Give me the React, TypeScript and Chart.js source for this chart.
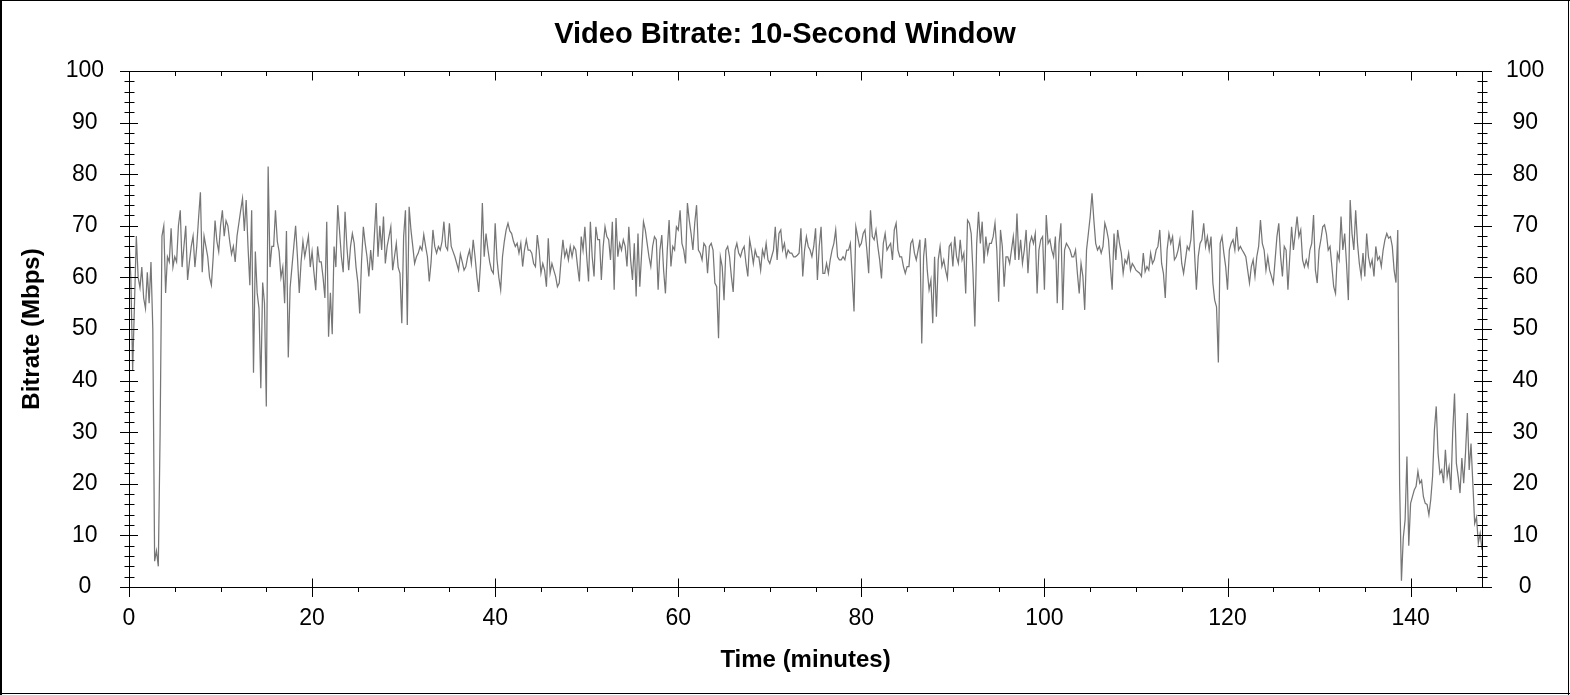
import React, { useEffect, useRef } from "react";
import { Chart, registerables } from "chart.js";

Chart.register(...registerables);

// ---- data ----
const SAMPLE_STEP_MIN = 0.2;
const segmentStartMin = [0, 21.0, 42.4, 64.0, 85.2, 106.4, 128.0];

const seg1 = [
  67.5, 60, 42, 55, 68, 60, 58, 62, 56, 54,
  61, 55, 63, 50, 5, 7, 4, 30, 68, 70,
  57, 64, 63, 69.5, 62, 64, 63, 70, 73, 62,
  66, 70, 59.5, 63, 66, 68, 62, 66, 71.5, 76.5,
  61, 68, 66, 64, 60, 58.5, 64, 71, 67, 65,
  70, 73, 68, 71, 70, 67, 64.5, 66, 63, 68,
  70.5, 73, 75.3, 69, 75, 66, 58.5, 73, 41.5, 65,
  57, 54, 38.5, 59, 55, 35, 81.5, 62, 66, 66,
  73, 67, 65, 60, 62, 55, 69, 44.5, 58, 62,
  66, 70, 64, 57, 63, 67, 64, 66, 68, 62,
  65, 61, 57.5, 66, 63,
];
const seg2 = [
  63, 60, 56, 70.8, 48.5, 57, 49, 66, 62, 74,
  69, 64, 61, 72.7, 66, 61.4, 66, 68.5, 66.6, 62,
  59, 53, 63, 69.8, 66.6, 64, 60.2, 65.3, 61.4, 68,
  74.4, 64, 70, 65.3, 71.8, 62.7, 66, 67.9, 69.8, 61.4,
  64, 66.6, 62, 60.8, 51.1, 67.9, 73, 50.8, 73.7, 69.2,
  66, 62.7, 64, 64.7, 66, 65.3, 68.3, 66, 64, 59.2,
  63, 69.2, 66, 64.7, 66, 65.3, 67, 70.8, 66, 65.3,
  70.5, 66, 65, 64, 62.7, 61.4, 64.5, 63, 61.4, 62.1,
  64, 65.3, 62.7, 67.3, 64, 60.2, 57.2, 62.7, 74.4, 64,
  68.5, 65.5, 63, 61.4, 60.8, 70.5, 63.5, 60, 57.6, 64,
  67, 69.2, 70.5, 69, 68.5, 67, 66,
];
const seg3 = [
  66.6, 64.7, 66.6, 62.1, 65.3, 67.3, 65.3, 65.3, 64.7, 62.7,
  62.1, 68.2, 65.3, 60.8, 62.7, 61.4, 58.2, 67.6, 60.8, 62.7,
  61.4, 60.2, 58.2, 58.9, 63.4, 67.3, 64, 65.3, 63.4, 66,
  64, 66, 65.3, 62.1, 59.2, 67.9, 65.3, 69.8, 64, 59.2,
  70.8, 64, 60.2, 69.8, 67.3, 67.3, 59.5, 66, 69.8, 67.9,
  67.3, 63.4, 70.8, 57.6, 71.5, 64, 66.6, 65.3, 67.3, 66,
  62.1, 69.8, 63.4, 59.5, 66.6, 56.3, 68.5, 58.2, 64.7, 70.8,
  69.2, 66.6, 64, 62.1, 66, 67.9, 67.3, 57.6, 65.3, 68.2,
  61.4, 56.9, 65.3, 71.1, 62.1, 66, 65.3, 69.8, 69.2, 73,
  66.6, 65.3, 62.7, 74.4, 71.1, 68.5, 65.3, 70.5, 74, 65.3,
  64.7, 63.4, 66.6, 66, 60.8, 66, 66.6, 65.3,
];
const seg4 = [
  58.9, 58.2, 48.2, 64, 62.1, 55.6, 65.3, 66, 64, 60.2,
  57.2, 65.3, 66.6, 64.7, 64, 65.3, 66, 62.7, 60.2, 67.3,
  65.3, 62.7, 65.3, 64, 64, 61.4, 65.3, 64, 66.6, 63.4,
  62.7, 64, 65.3, 69.8, 63.4, 68.5, 69.2, 65.3, 66.6, 64,
  65.3, 64.7, 64.7, 64, 64, 64.3, 64.7, 69.5, 60.2, 65.3,
  67.9, 66, 65.3, 64, 66, 69.5, 59.5, 66, 69.8, 60.8,
  60.8, 62.7, 60.8, 63.4, 65.3, 66.6, 69.2, 64, 63.4, 63.4,
  64, 63.4, 65.3, 65.3, 66.6, 60.2, 53.4, 69.8, 67.9, 66,
  66.6, 68.5, 69.2, 65.3, 60.8, 73, 67.9, 67.3, 69.2, 66,
  63.4, 59.8, 66.6, 68.5, 65.3, 66, 66.6, 63.4, 69.2, 70.5,
  65.3, 64, 64, 62.1, 60.8, 62.1,
];
const seg5 = [
  62.1, 66.6, 67.3, 64.7, 63.4, 65.3, 67.3, 47.2, 64, 67.6,
  61.4, 57.6, 59.5, 51.1, 64, 52.4, 63.4, 66, 62.1, 63.4,
  61.4, 59.8, 66, 66.6, 62.1, 67.9, 64, 62.7, 67.3, 63.4,
  64.7, 56.9, 71.1, 70.5, 68.5, 60.8, 50.5, 66.6, 72.7, 66.6,
  70.8, 62.7, 67.9, 64.7, 66.6, 66.6, 67.9, 70.5, 65.3, 55.3,
  69.2, 66, 58.2, 64, 64, 62.7, 65.3, 67.9, 63.4, 72.4,
  63.4, 67.3, 62.7, 65.3, 69.2, 60.8, 66.6, 67.9, 66.6, 68.5,
  56.9, 65.3, 67.3, 67.9, 57.6, 72.1, 66.6, 67.3, 65.3, 64,
  67.9, 55, 66.6, 70.5, 53.7, 65.3, 66.6, 66, 65.3, 64,
  64, 65.3, 60.8, 56.9, 62.7, 60.2, 53.7, 65.3, 68.5, 71.8,
  76.3, 71.1, 66.6, 65.3, 66, 64.7,
];
const seg6 = [
  66, 70.5, 69.2, 67.3, 62.1, 57.6, 68.5, 63.4, 69.2, 66.6,
  64.7, 60.8, 63.4, 62.7, 64.7, 61.4, 62.7, 62.1, 61.4, 61.1,
  60.8, 60.2, 64.7, 61.1, 62.1, 61.4, 64.7, 62.7, 63.4, 65.3,
  66, 69.2, 62.7, 60.8, 56, 65.3, 68.5, 66.6, 67.9, 63.4,
  64, 65.3, 67.3, 62.7, 60.8, 63.4, 66, 65.3, 67.3, 73,
  64.7, 57.6, 64, 66.6, 67.3, 70.5, 66, 67.9, 65.3, 67.9,
  58.9, 55.6, 54.3, 43.5, 66.6, 67.9, 64.7, 62.1, 57.6, 65.3,
  66.6, 67.3, 65.3, 69.8, 65.3, 66, 65.3, 64.7, 64, 61.4,
  58.9, 62.1, 63.4, 60.2, 64, 66, 71.1, 66.6, 65.3, 61.4,
  64, 61.4, 60.2, 58.9, 63.4, 67.9, 70.5, 64, 60.2, 66,
  65.3, 57.6, 64, 69.8, 65.3, 68.5, 71.8, 67.9,
];
const seg7 = [
  69.2, 63.4, 62, 63.4, 62.1, 65.3, 66.6, 72.1, 61.4, 58.9,
  65.3, 67.3, 69.8, 70.2, 68.5, 65.3, 66, 62.1, 58.2, 56.9,
  64.7, 63.4, 71.8, 65.3, 68.5, 62.7, 55.6, 75, 68.5, 65.3,
  73, 66.6, 62.7, 60.2, 64.7, 60.2, 68.5, 64, 62.1, 63.4,
  60.2, 66, 63.4, 64, 62.1, 65.3, 67.3, 68.5, 67.6, 67.9,
  66, 61.4, 59, 69.2, 20, 1.2, 9.5, 13, 25.3, 8,
  16.2, 17.5, 18.8, 19.5, 22.4, 20.1, 20.7, 17.5, 16.2, 16,
  14, 16.9, 21.4, 30.4, 35, 25.9, 22, 22.7, 20.1, 26.6,
  21.4, 23.3, 18.8, 30, 37.5, 24, 21.4, 18.2, 25, 20.1,
  26, 33.7, 22.7, 27.8, 20, 12.3, 13.5, 8.5, 10.4, 7.2,
];
const segmentValues = [seg1, seg2, seg3, seg4, seg5, seg6, seg7];

const xTickValues = [0, 20, 40, 60, 80, 100, 120, 140];
const yTickValues = [0, 10, 20, 30, 40, 50, 60, 70, 80, 90, 100];
const X_MIN = 0;
const X_MAX = 147.8;
const Y_MIN = 0;
const Y_MAX = 100;
const X_MINOR_STEP = 5;
const Y_MINOR_STEP = 2;

const TITLE = "Video Bitrate: 10-Second Window";
const X_TITLE = "Time (minutes)";
const Y_TITLE = "Bitrate (Mbps)";

const FONT = 'Arial, "Liberation Sans", Helvetica, sans-serif';

const framePlugin = {
  id: "frameTicks",
  afterDraw(chart: any) {
    const { ctx, chartArea: a, scales } = chart;
    const xs = scales.x;
    const ys = scales.y;
    ctx.save();
    ctx.strokeStyle = "#000";
    ctx.lineWidth = 1;
    const L = Math.round(a.left) + 0.5;
    const R = Math.round(a.right) + 0.5;
    const T = Math.round(a.top) + 0.5;
    const B = Math.round(a.bottom) + 0.5;
    ctx.beginPath();
    ctx.moveTo(L - 9.5, T); ctx.lineTo(R + 9.5, T);
    ctx.moveTo(L - 9.5, B); ctx.lineTo(R + 9.5, B);
    ctx.moveTo(L, T); ctx.lineTo(L, B);
    ctx.moveTo(R, T); ctx.lineTo(R, B);
    for (let v = Y_MIN; v <= Y_MAX; v += Y_MINOR_STEP) {
      const py = Math.round(ys.getPixelForValue(v)) + 0.5;
      const major = v % 10 === 0;
      const o = major ? 9.5 : 5;
      const i = major ? 8.5 : 5;
      ctx.moveTo(L - o, py); ctx.lineTo(L + i, py);
      ctx.moveTo(R - i, py); ctx.lineTo(R + o, py);
    }
    for (let t = X_MIN; t <= X_MAX; t += X_MINOR_STEP) {
      const px = Math.round(xs.getPixelForValue(t)) + 0.5;
      const major = t % 20 === 0;
      if (major) {
        ctx.moveTo(px, B - 9); ctx.lineTo(px, B + 9.5);
        ctx.moveTo(px, T); ctx.lineTo(px, T + 9);
      } else {
        ctx.moveTo(px, B); ctx.lineTo(px, B + 4.5);
        ctx.moveTo(px, T); ctx.lineTo(px, T + 4.5);
      }
    }
    ctx.stroke();
    ctx.fillStyle = "#000";
    ctx.fillRect(0, 0, 2, chart.height);
    ctx.fillRect(0, 0, chart.width, 1);
    ctx.fillRect(chart.width - 2, 0, 1, chart.height);
    ctx.fillRect(0, chart.height - 2, chart.width, 1);
    ctx.restore();
  },
};

export default function App() {
  const canvasRef = useRef<HTMLCanvasElement | null>(null);

  useEffect(() => {
    document.body.style.margin = "0";
    const canvas = canvasRef.current;
    if (!canvas) return;
    const points: { x: number; y: number }[] = [];
    segmentValues.forEach((vals, si) => {
      vals.forEach((v, i) => {
        points.push({ x: Math.round((segmentStartMin[si] + i * SAMPLE_STEP_MIN) * 100) / 100, y: v });
      });
    });

    const tickFont = { family: FONT, size: 23 };
    const chart = new Chart(canvas, {
      type: "line",
      data: {
        datasets: [
          {
            data: points,
            borderColor: "#767676",
            borderWidth: 1.25,
            pointRadius: 0,
            tension: 0,
            fill: false,
          },
        ],
      },
      options: {
        animation: false,
        responsive: false,
        devicePixelRatio: 1,
        layout: { padding: 0 },
        plugins: {
          legend: { display: false },
          tooltip: { enabled: false },
          title: {
            display: true,
            text: TITLE,
            color: "#000",
            font: { family: FONT, size: 29, weight: "bold" },
            padding: { top: 17.4, bottom: 18.8 },
          },
        },
        scales: {
          x: {
            type: "linear",
            position: "bottom",
            min: X_MIN,
            max: X_MAX,
            afterBuildTicks: (s: any) => {
              s.ticks = xTickValues.map((v) => ({ value: v }));
            },
            afterFit: (s: any) => {
              s.height = 108;
            },
            grid: { display: false, drawTicks: false },
            border: { display: false },
            ticks: { color: "#000", font: tickFont, padding: 18, maxRotation: 0, autoSkip: false },
            title: {
              display: true,
              text: X_TITLE,
              color: "#000",
              font: { family: FONT, size: 24, weight: "bold" },
              padding: { top: 0, bottom: 19.8 },
            },
          },
          y: {
            type: "linear",
            position: "left",
            min: Y_MIN,
            max: Y_MAX,
            afterBuildTicks: (s: any) => {
              s.ticks = yTickValues.map((v) => ({ value: v }));
            },
            afterFit: (s: any) => {
              s.width = 129;
            },
            grid: { display: false, drawTicks: false },
            border: { display: false },
            ticks: { color: "#000", font: tickFont, padding: 25, crossAlign: "center" },
            title: {
              display: true,
              text: Y_TITLE,
              color: "#000",
              font: { family: FONT, size: 24, weight: "bold" },
              padding: { top: 17.6, bottom: 0 },
            },
          },
          y2: {
            type: "linear",
            position: "right",
            min: Y_MIN,
            max: Y_MAX,
            afterBuildTicks: (s: any) => {
              s.ticks = yTickValues.map((v) => ({ value: v }));
            },
            afterFit: (s: any) => {
              s.width = 88;
            },
            grid: { display: false, drawTicks: false },
            border: { display: false },
            ticks: { color: "#000", font: tickFont, padding: 24, crossAlign: "center" },
          },
        },
      },
      plugins: [framePlugin],
    } as any);
    return () => chart.destroy();
  }, []);

  return (
    <div style={{ position: "absolute", left: 0, top: 0, width: 1570, height: 695, background: "#fff" }}>
      <canvas ref={canvasRef} width={1570} height={695} style={{ display: "block", width: 1570, height: 695 }} />
    </div>
  );
}
